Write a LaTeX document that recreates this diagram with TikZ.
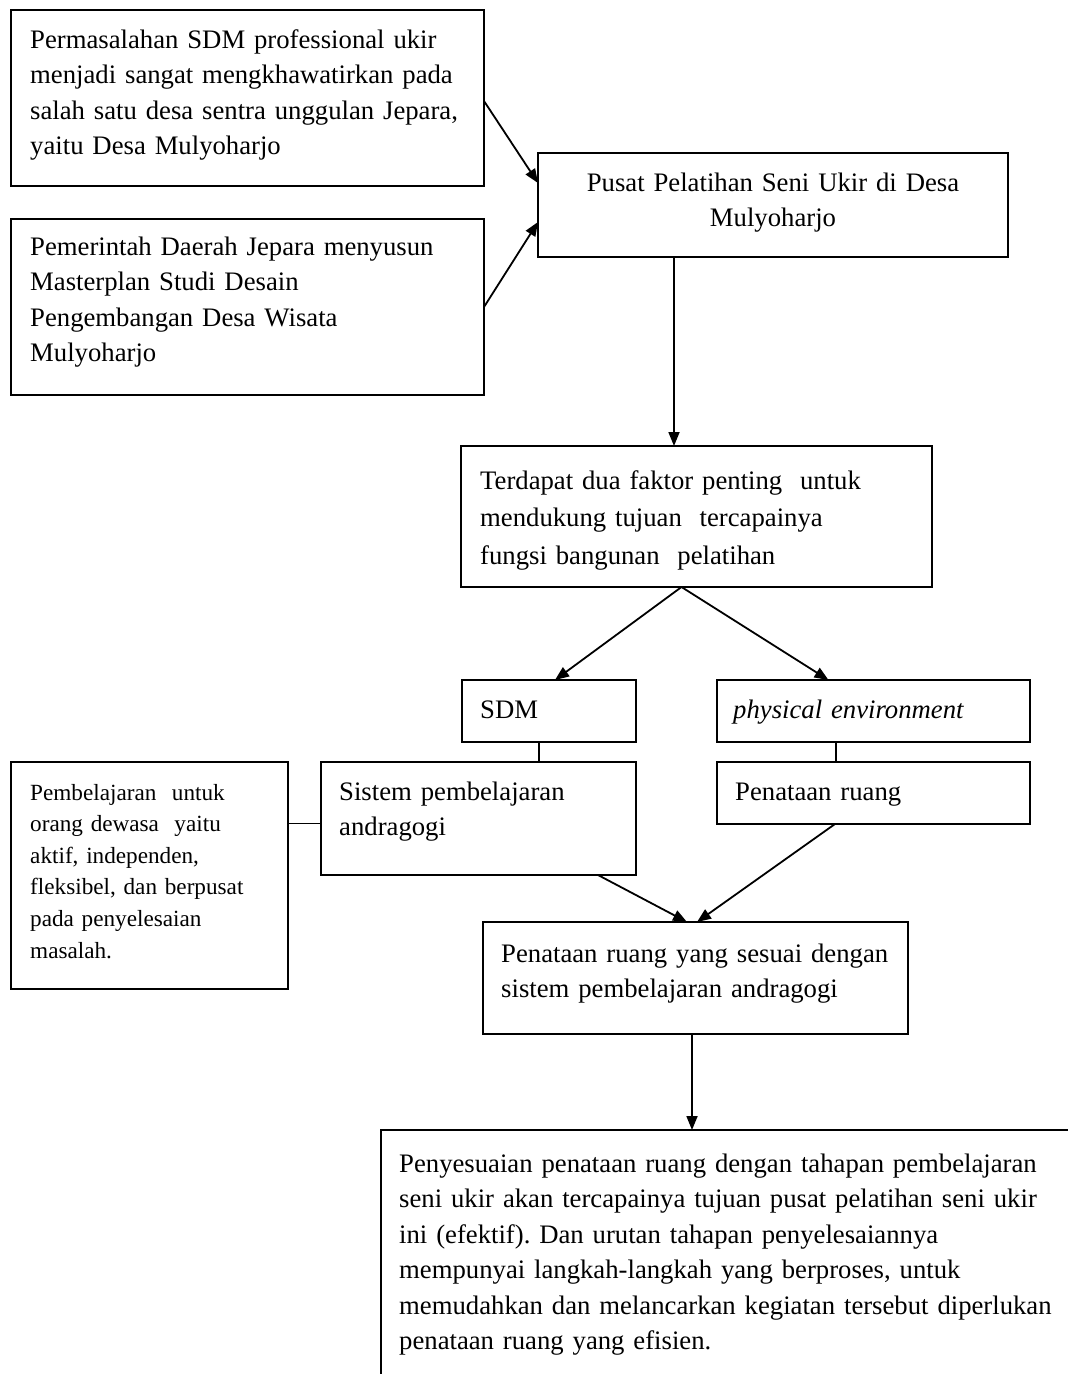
\documentclass[tikz,border=0pt]{standalone}
\usepackage{fontspec}
\setmainfont{Liberation Serif}
\usetikzlibrary{arrows.meta}
\frenchspacing
\begin{document}
\begin{tikzpicture}[x=1pt,y=-1pt,
  boxnode/.style={draw, line width=2.2pt, inner sep=0pt, outer sep=0pt, anchor=north west},
  txt/.style={font=\fontsize{26.7}{35.5}\selectfont, align=left, inner sep=0pt, anchor=base west, text width=700pt},
  txtsmall/.style={font=\fontsize{23.2}{31.6}\selectfont, align=left, inner sep=0pt, anchor=base west, text width=400pt},
  arr/.style={line width=1.8pt, -{Triangle[length=14pt,width=11pt]}},
  plain/.style={line width=1.8pt}]
\useasboundingbox (0,0) rectangle (1068,1374);
\fill[white] (0,0) rectangle (1068,1374);
% boxes
\node[boxnode, minimum width=473pt, minimum height=176pt] (A) at (11,10) {};
\node[boxnode, minimum width=473pt, minimum height=176pt] (B) at (11,219) {};
\node[boxnode, minimum width=470pt, minimum height=104pt] (C) at (538,153) {};
\node[boxnode, minimum width=471pt, minimum height=141pt] (D) at (461,446) {};
\node[boxnode, minimum width=174pt, minimum height=62pt] (S) at (462,680) {};
\node[boxnode, minimum width=313pt, minimum height=62pt] (P) at (717,680) {};
\node[boxnode, minimum width=315pt, minimum height=113pt] (Si) at (321,762) {};
\node[boxnode, minimum width=313pt, minimum height=62pt] (Pr) at (717,762) {};
\node[boxnode, minimum width=277pt, minimum height=227pt] (L) at (11,762) {};
\node[boxnode, minimum width=425pt, minimum height=112pt] (E) at (483,922) {};
\node[boxnode, minimum width=700pt, minimum height=270pt] (F) at (381,1130) {};
% texts
\node[txt] (At) at ([xshift=19pt,yshift=-38pt]A.north west)
  {Permasalahan SDM professional ukir\\menjadi sangat mengkhawatirkan pada\\salah satu desa sentra unggulan Jepara,\\yaitu Desa Mulyoharjo};
\node[txt] (Bt) at ([xshift=19pt,yshift=-36pt]B.north west)
  {Pemerintah Daerah Jepara menyusun\\Masterplan Studi Desain\\Pengembangan Desa Wisata\\Mulyoharjo};
\node[txt, anchor=base, align=center, text width=460pt] (Ct) at ([yshift=-38pt]C.north)
  {Pusat Pelatihan Seni Ukir di Desa\\Mulyoharjo};
\node[txt, font=\fontsize{26.7}{37.5}\selectfont] (Dt) at ([xshift=19pt,yshift=-43pt]D.north west)
  {Terdapat dua faktor penting~ untuk\\mendukung tujuan~ tercapainya\\fungsi bangunan~ pelatihan};
\node[txt] (St) at ([xshift=18pt,yshift=-38pt]S.north west) {SDM};
\node[txt] (Pt) at ([xshift=16pt,yshift=-38pt]P.north west) {\itshape physical environment};
\node[txt] (Sit) at ([xshift=18pt,yshift=-38pt]Si.north west) {Sistem pembelajaran\\andragogi};
\node[txt] (Prt) at ([xshift=18pt,yshift=-38pt]Pr.north west) {Penataan ruang};
\node[txtsmall] (Lt) at ([xshift=19pt,yshift=-38pt]L.north west)
  {Pembelajaran~ untuk\\orang dewasa~ yaitu\\aktif, independen,\\fleksibel, dan berpusat\\pada penyelesaian\\masalah.};
\node[txt] (Et) at ([xshift=18pt,yshift=-40pt]E.north west)
  {Penataan ruang yang sesuai dengan\\sistem pembelajaran andragogi};
\node[txt] (Ft) at ([xshift=18pt,yshift=-42pt]F.north west)
  {Penyesuaian penataan ruang dengan tahapan pembelajaran\\seni ukir akan tercapainya tujuan pusat pelatihan seni ukir\\ini (efektif). Dan urutan tahapan penyelesaiannya\\mempunyai langkah-langkah yang berproses, untuk\\memudahkan dan melancarkan kegiatan tersebut diperlukan\\penataan ruang yang efisien.};
% connectors
\draw[arr] ([yshift=-3pt]A.east) -- ([yshift=22pt]C.west);
\draw[arr] (B.east) -- ([yshift=-17pt]C.west);
\draw[arr] ([xshift=-99pt]C.south) -- ([xshift=-99pt]C.south |- D.north);
\draw[arr] ([xshift=-15pt]D.south) -- ([xshift=6pt]S.north);
\draw[arr] ([xshift=-15pt]D.south) -- ([xshift=-45pt]P.north);
\draw[plain] ([xshift=-10pt]S.south) -- ([xshift=-10pt]S.south |- Si.north);
\draw[plain] ([xshift=-37.5pt]P.south) -- ([xshift=-37.5pt]P.south |- Pr.north);
\draw[plain] ([yshift=-5pt]Si.west) -- ([yshift=-5pt]Si.west -| L.east);
\draw[arr] ([xshift=119.5pt]Si.south) -- ([xshift=-8.5pt]E.north);
\draw[arr] ([xshift=-38.5pt]Pr.south) -- ([xshift=1.5pt]E.north);
\draw[arr] ([xshift=-3.5pt]E.south) -- ([xshift=-3.5pt]E.south |- F.north);
\end{tikzpicture}
\end{document}
